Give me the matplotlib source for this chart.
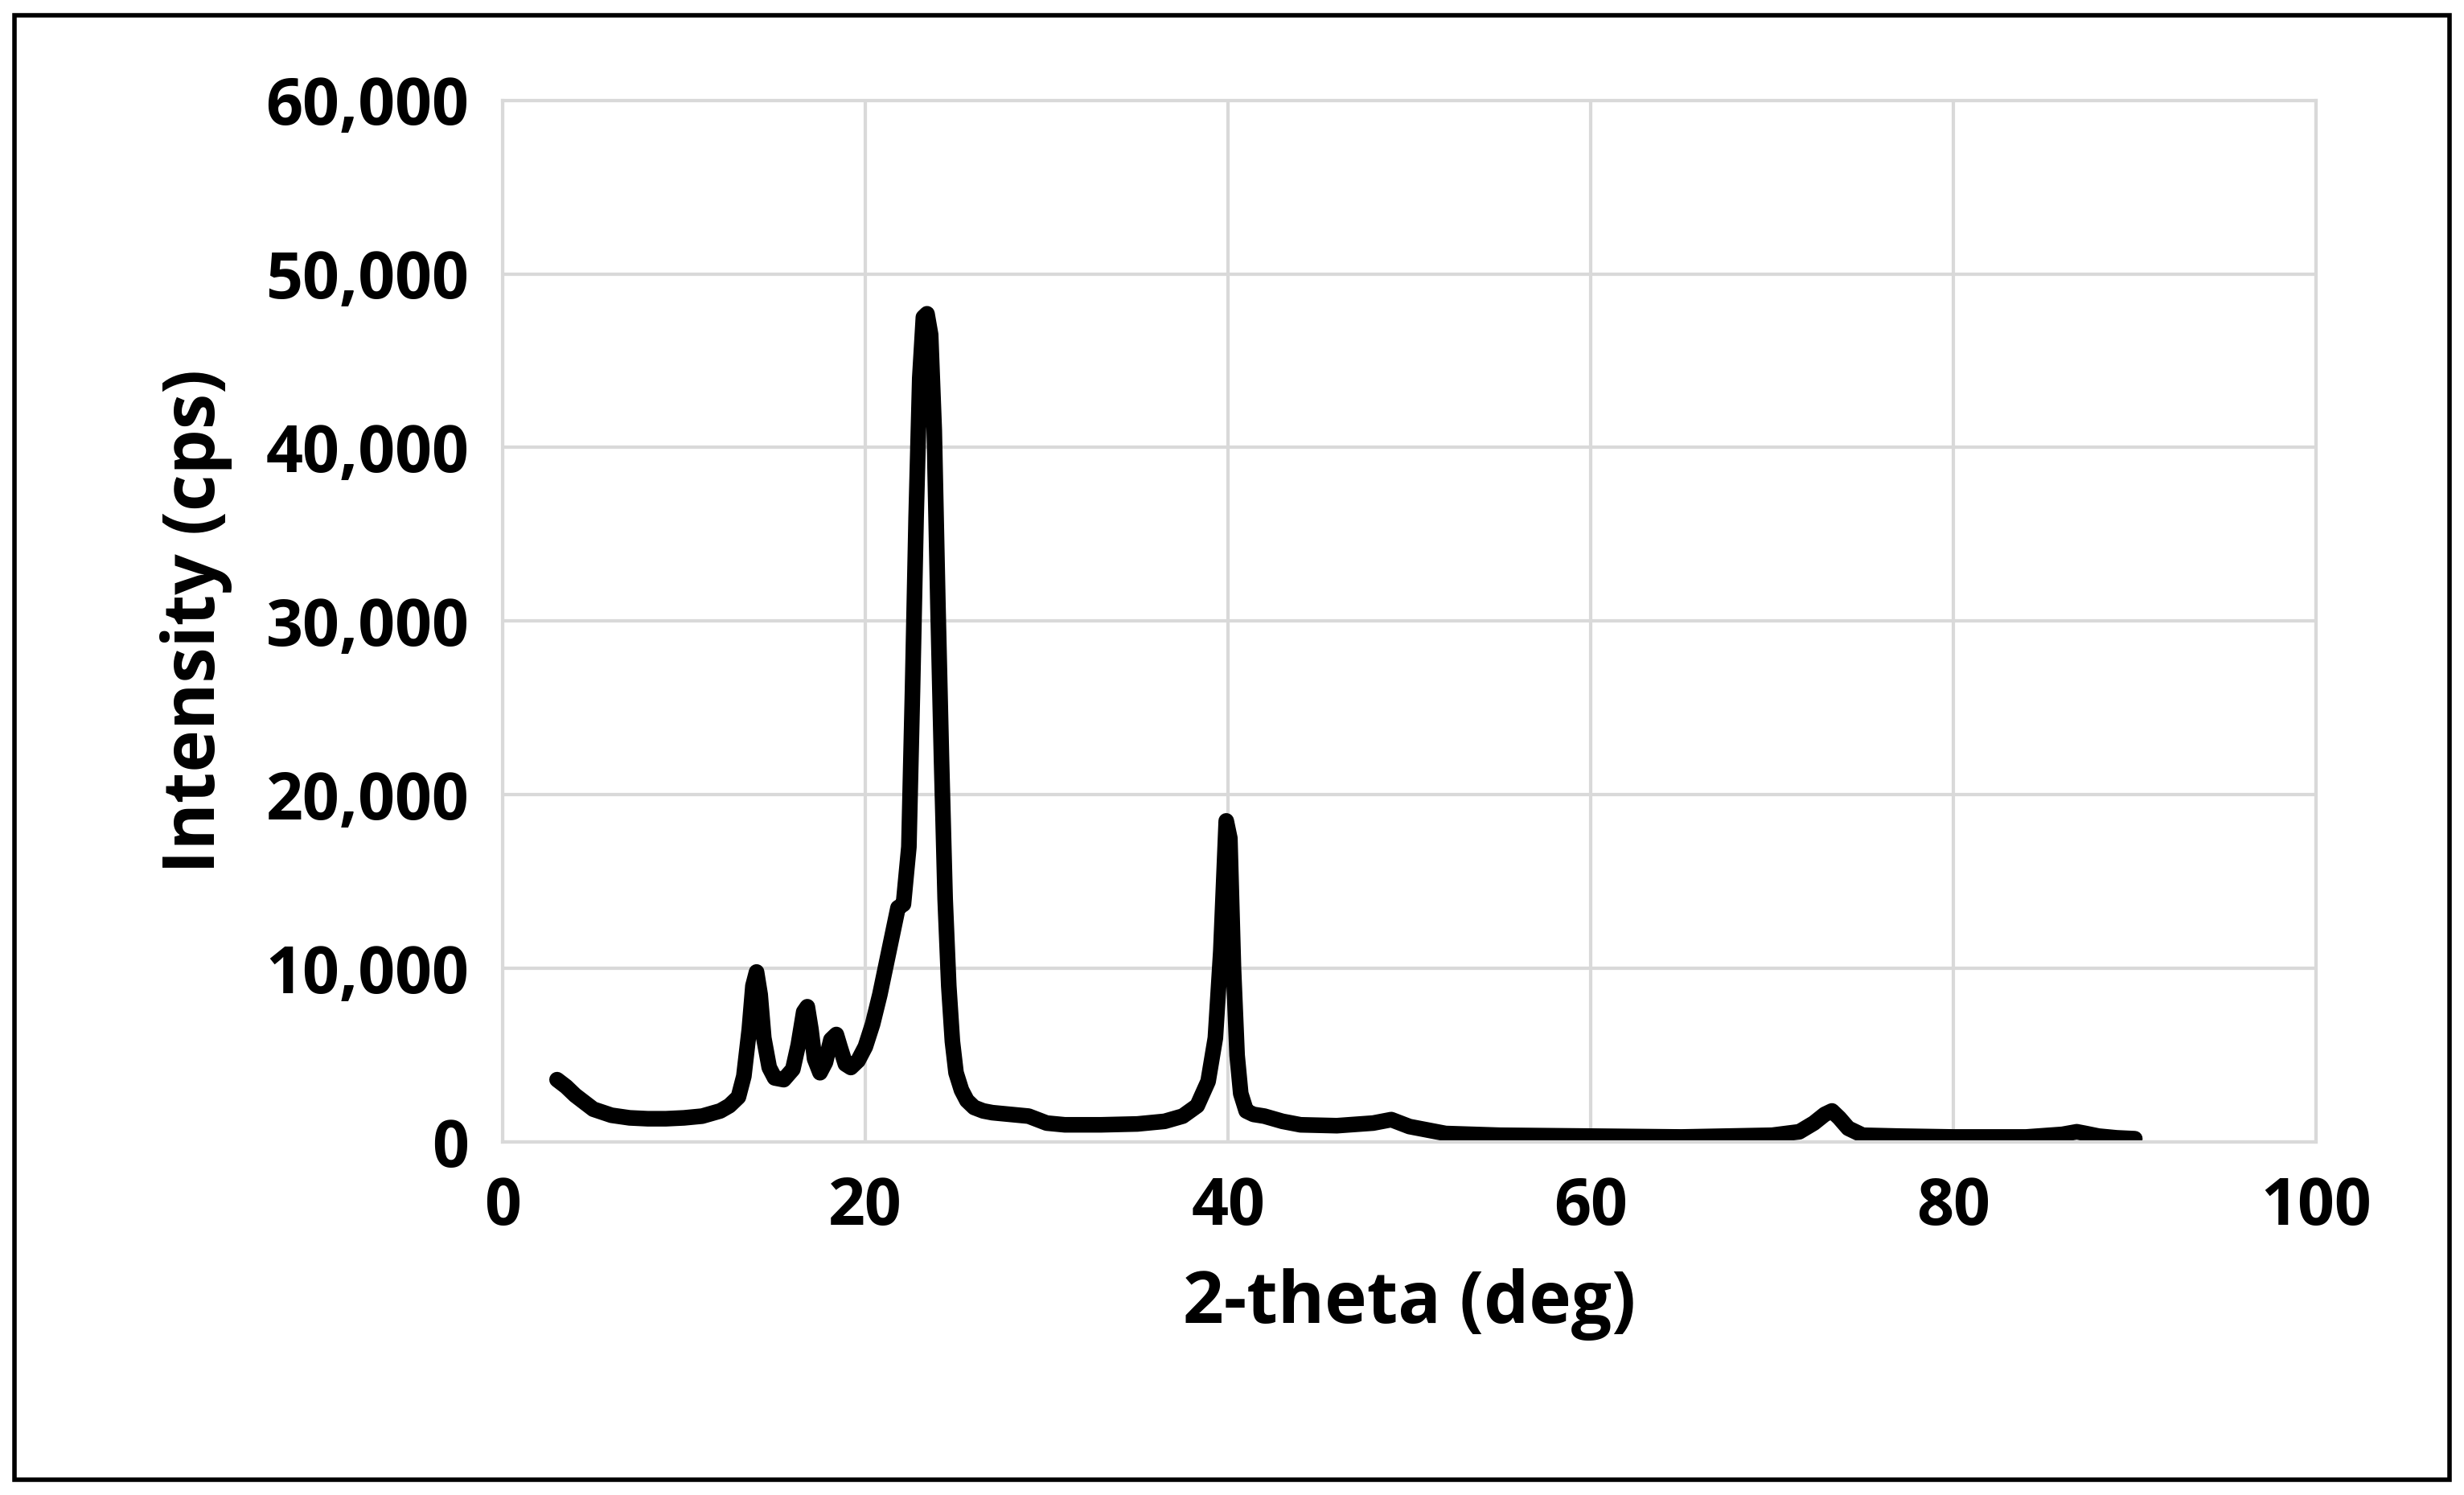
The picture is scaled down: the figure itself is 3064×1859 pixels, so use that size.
import numpy as np
import matplotlib.pyplot as plt
from matplotlib.ticker import FuncFormatter

plt.rcParams['font.family'] = ['Open Sans', 'DejaVu Sans']

two_theta = [3.0, 3.5, 4.0, 5.0, 6.0, 7.0, 8.0, 9.0, 10.0, 11.0, 12.0, 12.5, 13.0, 13.3,
             13.6, 13.8, 14.0, 14.2, 14.4, 14.7, 15.0, 15.5, 16.0, 16.3, 16.6, 16.8, 17.0,
             17.2, 17.5, 17.8, 18.1, 18.4, 18.6, 18.9, 19.2, 19.6, 20.0, 20.4, 20.8, 21.2,
             21.5, 21.8, 22.1, 22.4, 22.6, 22.8, 23.0, 23.2, 23.4, 23.6, 23.8, 24.0, 24.2,
             24.4, 24.6, 24.8, 25.0, 25.3, 25.6, 26.0, 26.5, 27.0, 28.0, 29.0, 30.0, 31.0,
             33.0, 35.0, 36.5, 37.5, 38.3, 38.9, 39.3, 39.6, 39.9, 40.1, 40.3, 40.5, 40.7,
             41.0, 41.4, 42.0, 43.0, 44.0, 46.0, 48.0, 49.0, 50.0, 52.0, 55.0, 60.0, 65.0,
             70.0, 71.5, 72.3, 72.9, 73.3, 73.7, 74.2, 75.0, 77.0, 80.0, 84.0, 86.0, 86.8,
             87.3, 88.0, 89.0, 90.0]
intensity = [3600, 3200, 2700, 1900, 1550, 1400, 1350, 1350, 1400, 1500, 1800, 2100, 2600, 3800,
             6500, 9000, 9800, 8500, 6000, 4300, 3700, 3600, 4200, 5600, 7500, 7800, 6500,
             4800, 4000, 4600, 5900, 6200, 5500, 4500, 4300, 4700, 5500, 6800, 8500, 10500,
             12000, 13500, 13700, 17000, 26000, 36000, 44000, 47500, 47700, 46500, 41000, 31000,
             22000, 14000, 9000, 5800, 4000, 3000, 2400, 2000, 1800, 1700, 1600, 1500, 1100, 1000,
             1000, 1050, 1200, 1500, 2100, 3500, 6000, 11000, 18500, 17500, 10000, 5000, 2800,
             1800, 1600, 1500, 1200, 1000, 950, 1100, 1300, 900, 500, 400, 350, 300,
             400, 600, 1100, 1600, 1800, 1400, 800, 400, 350, 300, 300, 450, 600,
             500, 350, 250, 200]


def main():
    fig = plt.figure(figsize=(30.64, 18.59), dpi=100)
    ax = fig.add_axes([0.204, 0.236, 0.736, 0.697])
    ax.plot(two_theta, intensity, color='black', lw=14, solid_capstyle='round',
            solid_joinstyle='round')

    ax.set_xlim(0, 100)
    ax.set_ylim(0, 60000)
    ax.set_xticks(range(0, 101, 20))
    ax.set_yticks(range(0, 60001, 10000))
    ax.yaxis.set_major_formatter(FuncFormatter(lambda v, p: f'{int(v):,}'))
    ax.grid(True, color='#d9d9d9', lw=3)
    ax.set_axisbelow(True)
    for s in ax.spines.values():
        s.set_color('#d9d9d9')
        s.set_linewidth(3)
    ax.tick_params(length=0, labelsize=58, pad=30)
    for lab in ax.get_xticklabels() + ax.get_yticklabels():
        lab.set_fontweight('bold')
    ax.set_xlabel('2-theta (deg)', fontsize=64, fontweight='bold', labelpad=25)
    ax.set_ylabel('Intensity (cps)', fontsize=64, fontweight='bold', labelpad=30)

    # outer frame
    fig.patches.append(plt.Rectangle((0.006, 0.01), 0.988, 0.98, transform=fig.transFigure,
                                     fill=False, ec='black', lw=4))
    fig.savefig('out.png')


if __name__ == '__main__':
    main()
